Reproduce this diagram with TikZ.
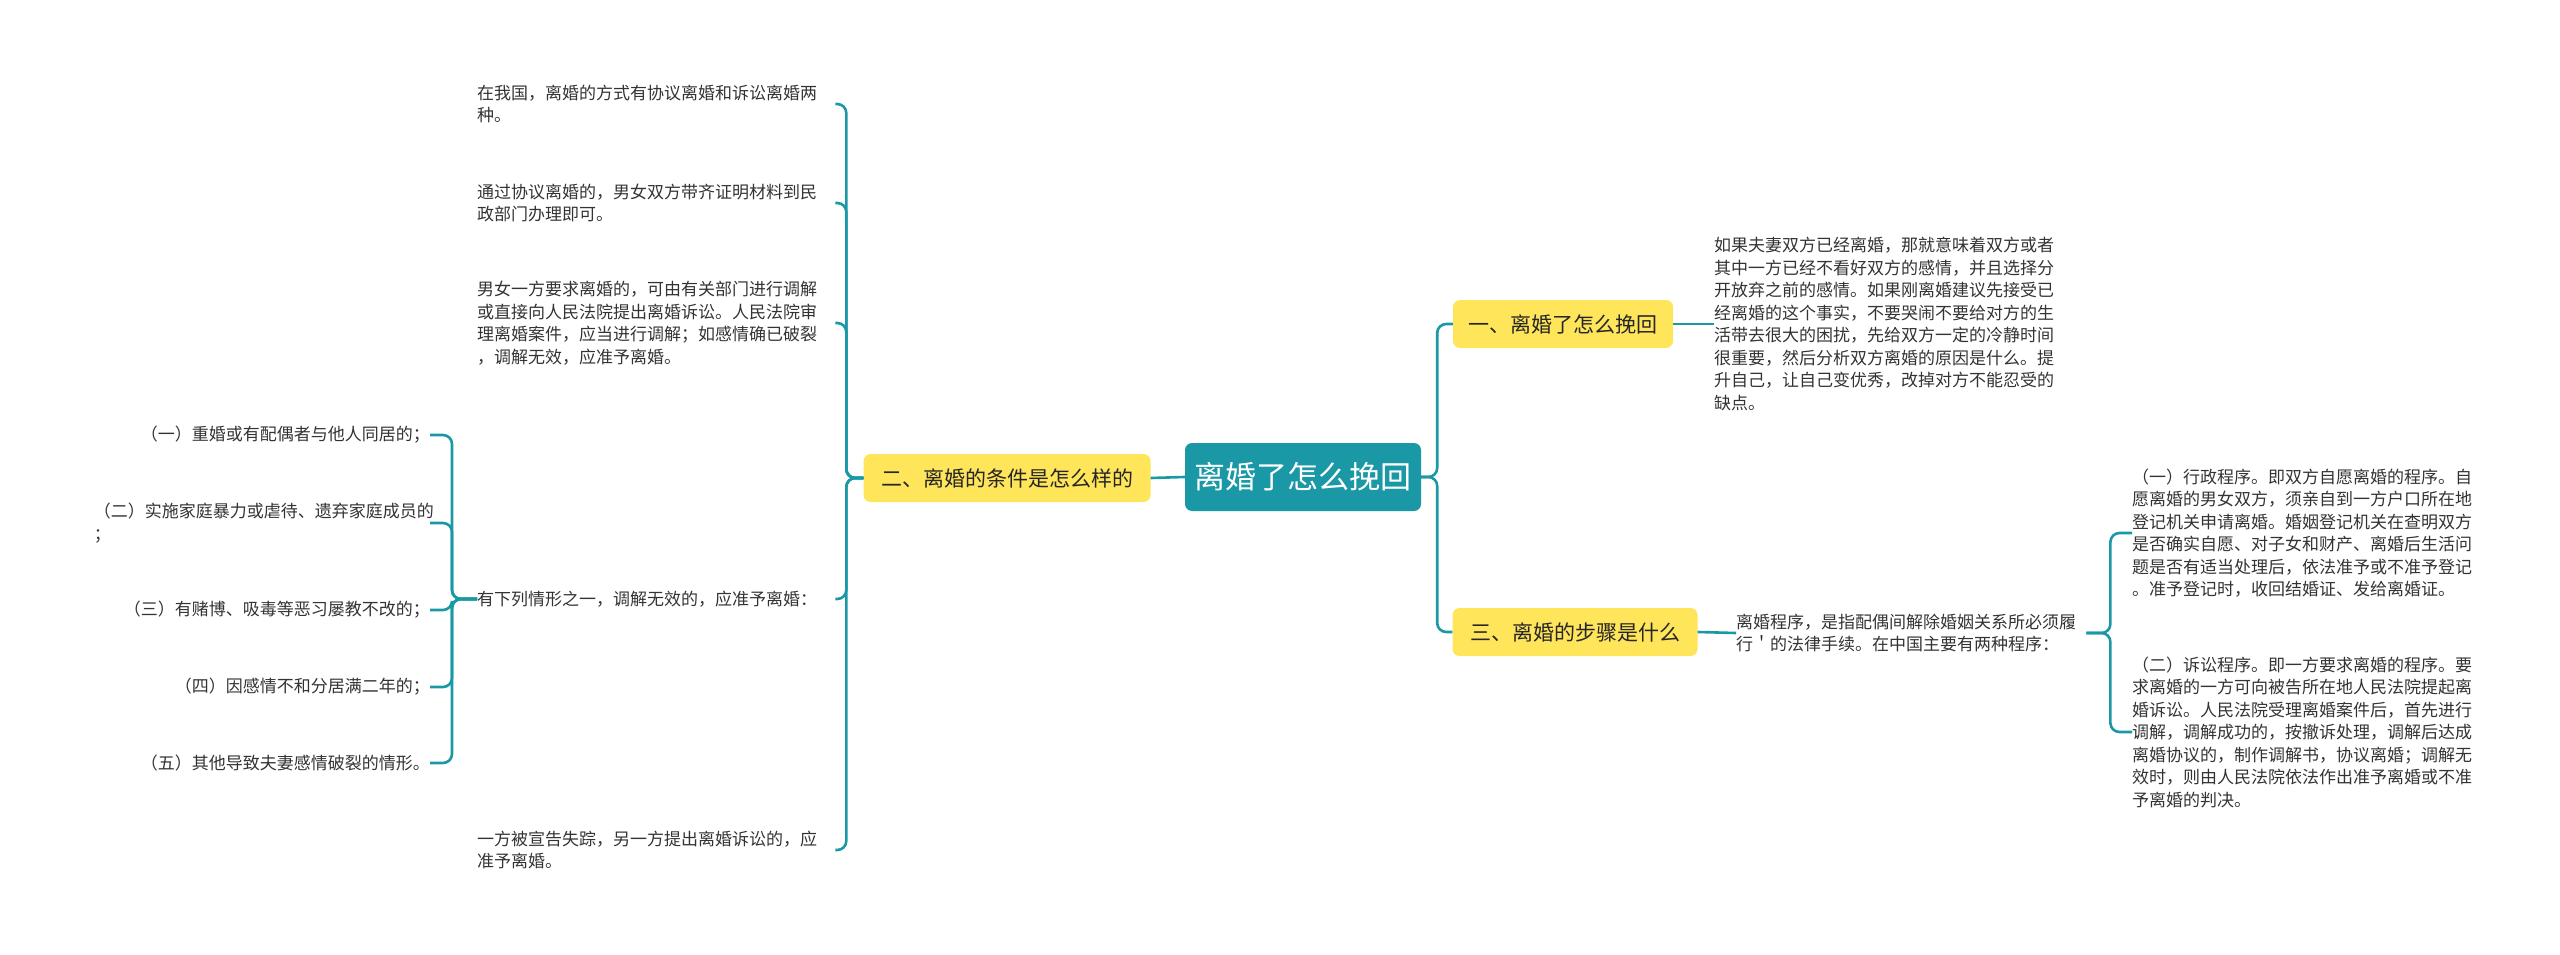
\documentclass[tikz,border=0pt]{standalone}
\usepackage{fontspec}
\setmainfont{Noto Sans CJK SC}
\usepackage{xcolor}
\usepackage{tikz}
\usetikzlibrary{positioning}
\definecolor{mapteal}{HTML}{1A98A6}
\definecolor{topicbg}{HTML}{FFE55A}
\definecolor{leaftext}{HTML}{333333}
\tikzstyle{root} = [rectangle, rounded corners=7pt, minimum width=236pt, minimum height=68pt, text centered, fill=mapteal, text=white, font=\fontsize{31}{36}\selectfont]
\tikzstyle{topic} = [rectangle, rounded corners=7pt, minimum height=48pt, text centered, fill=topicbg, text=black!85, font=\fontsize{21}{26}\selectfont]
\tikzstyle{leaf} = [inner sep=0pt, text width=358pt, align=left, text=leaftext, font=\fontsize{17}{22.5}\selectfont]
\tikzstyle{link} = [line width=2.6pt, mapteal, rounded corners=9pt]
\begin{document}
\begin{tikzpicture}[x=1pt, y=-1pt]
    \useasboundingbox (0,0) rectangle (2560,955);

    % Centre and topics
    \node (center) [root] at (1303,477) {离婚了怎么挽回};
    \node (cond) [topic, minimum width=287pt] at (1007,478) {二、离婚的条件是怎么样的};
    \node (save) [topic, minimum width=220pt] at (1563,324) {一、离婚了怎么挽回};
    \node (steps) [topic, minimum width=245pt] at (1575,632) {三、离婚的步骤是什么};

    % Left leaves
    \node (way) [leaf, anchor=west] at (477,104) {在我国，离婚的方式有协议离婚和诉讼离婚两\\种。};
    \node (agree) [leaf, anchor=west] at (477,203) {通过协议离婚的，男女双方带齐证明材料到民\\政部门办理即可。};
    \node (court) [leaf, anchor=west] at (477,323) {男女一方要求离婚的，可由有关部门进行调解\\或直接向人民法院提出离婚诉讼。人民法院审\\理离婚案件，应当进行调解；如感情确已破裂\\，调解无效，应准予离婚。};
    \node (cases) [leaf, anchor=west] at (477,599) {有下列情形之一，调解无效的，应准予离婚：};
    \node (missing) [leaf, anchor=west] at (477,850) {一方被宣告失踪，另一方提出离婚诉讼的，应\\准予离婚。};

    % Five cases
    \node (c1) [leaf, text width=336pt, align=right, anchor=east] at (430,435) {（一）重婚或有配偶者与他人同居的；};
    \node (c2) [leaf, text width=336pt, anchor=east] at (430,523) {（二）实施家庭暴力或虐待、遗弃家庭成员的\\；};
    \node (c3) [leaf, text width=336pt, align=right, anchor=east] at (430,610) {（三）有赌博、吸毒等恶习屡教不改的；};
    \node (c4) [leaf, text width=336pt, align=right, anchor=east] at (430,687) {（四）因感情不和分居满二年的；};
    \node (c5) [leaf, text width=336pt, align=right, anchor=east] at (430,763) {（五）其他导致夫妻感情破裂的情形。};

    % Right leaves
    \node (advice) [leaf, text width=350pt, anchor=west] at (1714,324) {如果夫妻双方已经离婚，那就意味着双方或者\\其中一方已经不看好双方的感情，并且选择分\\开放弃之前的感情。如果刚离婚建议先接受已\\经离婚的这个事实，不要哭闹不要给对方的生\\活带去很大的困扰，先给双方一定的冷静时间\\很重要，然后分析双方离婚的原因是什么。提\\升自己，让自己变优秀，改掉对方不能忍受的\\缺点。};
    \node (proc) [leaf, text width=350pt, anchor=west] at (1736,633) {离婚程序，是指配偶间解除婚姻关系所必须履\\行＇的法律手续。在中国主要有两种程序：};
    \node (admin) [leaf, text width=352pt, anchor=west] at (2132,533) {（一）行政程序。即双方自愿离婚的程序。自\\愿离婚的男女双方，须亲自到一方户口所在地\\登记机关申请离婚。婚姻登记机关在查明双方\\是否确实自愿、对子女和财产、离婚后生活问\\题是否有适当处理后，依法准予或不准予登记\\。准予登记时，收回结婚证、发给离婚证。};
    \node (suit) [leaf, text width=352pt, anchor=west] at (2132,732) {（二）诉讼程序。即一方要求离婚的程序。要\\求离婚的一方可向被告所在地人民法院提起离\\婚诉讼。人民法院受理离婚案件后，首先进行\\调解，调解成功的，按撤诉处理，调解后达成\\离婚协议的，制作调解书，协议离婚；调解无\\效时，则由人民法院依法作出准予离婚或不准\\予离婚的判决。};

    % Connectors
    \draw [link] (center.west) -- (cond.east);
    \draw [link] (center.east) -- ++(16,0) |- (save.west);
    \draw [link] (center.east) -- ++(16,0) |- (steps.west);
    \foreach \n in {way,agree,court,cases,missing}
        \draw [link] (cond.west) -- ++(-17,0) |- (\n.east);
    \foreach \n in {c1,c2,c3,c4,c5}
        \draw [link] (cases.west) -- ++(-25,0) |- (\n.east);
    \draw [link] (save.east) -- (advice.west);
    \draw [link] (steps.east) -- (proc.west);
    \foreach \n in {admin,suit}
        \draw [link] (proc.east) -- ++(24,0) |- (\n.west);

\end{tikzpicture}
\end{document}
